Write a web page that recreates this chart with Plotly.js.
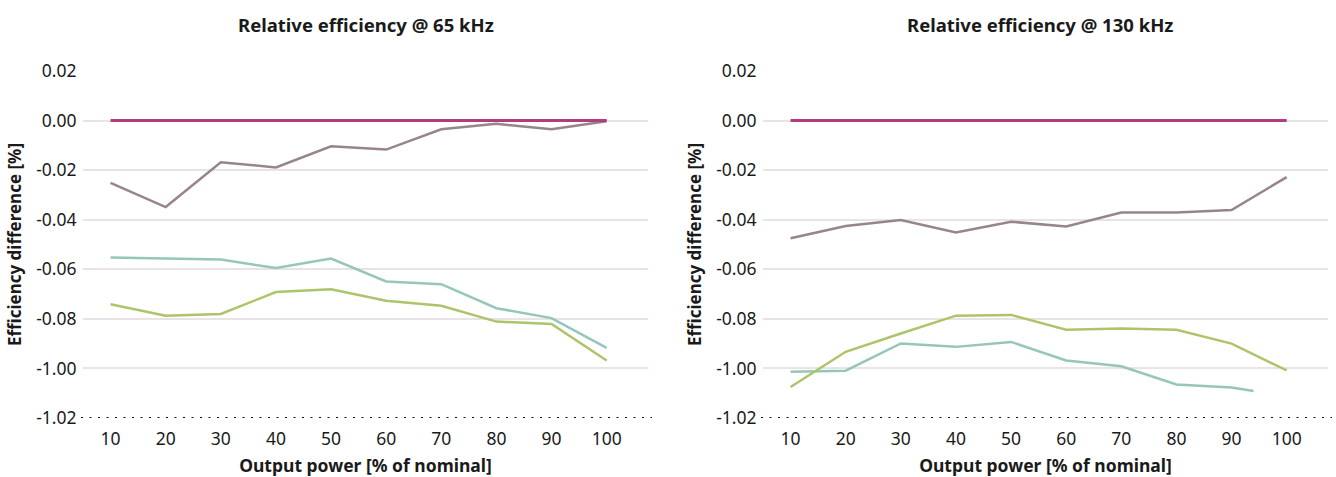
<!DOCTYPE html>
<html>
<head>
<meta charset="utf-8">
<script src="https://cdn.plot.ly/plotly-3.0.1.min.js"></script>
<style>html,body{margin:0;padding:0;background:#fff}#chart{width:1336px;height:477px}</style>
</head>
<body>
<div id="chart"></div>
<script>
// Output power [% of nominal]
const power = [10, 20, 30, 40, 50, 60, 70, 80, 90, 100];
const powerTealRight = [10, 20, 30, 40, 50, 60, 70, 80, 90, 94];

// Relative efficiency @ 65 kHz
const ref65   = [0, 0, 0, 0, 0, 0, 0, 0, 0, 0];
const mauve65 = [-0.0251, -0.0349, -0.0168, -0.0189, -0.0104, -0.0117, -0.0035, -0.0013, -0.0035, -0.0003];
const teal65  = [-0.0552, -0.0556, -0.0561, -0.0595, -0.0557, -0.0649, -0.0660, -0.0757, -0.0797, -0.0917];
const green65 = [-0.0741, -0.0787, -0.0780, -0.0692, -0.0681, -0.0727, -0.0747, -0.0811, -0.0821, -0.0968];

// Relative efficiency @ 130 kHz
const ref130   = [0, 0, 0, 0, 0, 0, 0, 0, 0, 0];
const mauve130 = [-0.0475, -0.0425, -0.0401, -0.0451, -0.0408, -0.0427, -0.0371, -0.0371, -0.0361, -0.0228];
const teal130  = [-0.1013, -0.1009, -0.0899, -0.0913, -0.0893, -0.0968, -0.0991, -0.1065, -0.1077, -0.1091];
const green130 = [-0.1075, -0.0933, -0.0859, -0.0787, -0.0784, -0.0844, -0.0839, -0.0844, -0.0900, -0.1008];

// Axis ticks (labels as printed on the chart)
const yTickVals = [0.02, 0.00, -0.02, -0.04, -0.06, -0.08, -0.10, -0.12];
const yTickText = ["0.02", "0.00", "-0.02", "-0.04", "-0.06", "-0.08", "-1.00", "-1.02"];
const xTickVals = [10, 20, 30, 40, 50, 60, 70, 80, 90, 100];

const titles = ["Relative efficiency @ 65 kHz", "Relative efficiency @ 130 kHz"];
const xTitle = "Output power [% of nominal]";
const yTitle = "Efficiency difference [%]";

const C = {mag: "#b13c7e", mauve: "#978589", teal: "#96c6ba", green: "#adc46a"};
const FONT = "Noto Sans, sans-serif";
const TXT = "#1a1a1a";

function tr(x, y, color, ax, w) {
  return {x: x, y: y, type: "scatter", mode: "lines", xaxis: ax[0], yaxis: ax[1],
          line: {color: color, width: w || 2.5}, hoverinfo: "skip", showlegend: false};
}
const A1 = ["x", "y"], A2 = ["x2", "y2"];
const data = [
  tr(power, mauve65, C.mauve, A1), tr(power, teal65, C.teal, A1), tr(power, green65, C.green, A1), tr(power, ref65, C.mag, A1, 3),
  tr(power, mauve130, C.mauve, A2), tr(powerTealRight, teal130, C.teal, A2), tr(power, green130, C.green, A2), tr(power, ref130, C.mag, A2, 3)
];

const W = 1336;
function xax(dom, anchor) {
  return {domain: dom, anchor: anchor, range: [5, 107.5], tickvals: xTickVals, showgrid: false, zeroline: false,
          showline: false, ticks: "outside", ticklen: 5, tickcolor: "rgba(0,0,0,0)",
          tickfont: {family: FONT, size: 17.5, color: TXT},
          title: {text: "<b>" + xTitle + "</b>", font: {family: FONT, size: 17.5, color: TXT}, standoff: 13}};
}
function yax(anchor) {
  return {anchor: anchor, domain: [0, 1], range: [-0.12, 0.02], tickvals: yTickVals, ticktext: yTickText,
          showgrid: true, gridcolor: "#e9e3e5", gridwidth: 2, zeroline: false, showline: false,
          ticks: "outside", ticklen: 2, tickcolor: "rgba(0,0,0,0)",
          tickfont: {family: FONT, size: 17.5, color: TXT},
          title: {text: "<b>" + yTitle + "</b>", font: {family: FONT, size: 17, color: TXT}, standoff: 10}};
}
const d1 = [83 / W, 648 / W], d2 = [763 / W, 1328 / W];
const layout = {
  width: 1336, height: 477,
  margin: {l: 0, r: 0, t: 71, b: 59, pad: 0},
  paper_bgcolor: "#fff", plot_bgcolor: "#fff",
  font: {family: FONT},
  xaxis: xax(d1, "y"), yaxis: yax("x"),
  xaxis2: xax(d2, "y2"), yaxis2: yax("x2"),
  shapes: [
    {type: "line", xref: "paper", yref: "y", x0: 81 / W, x1: 652 / W, y0: -0.12, y1: -0.12,
     line: {color: "#111", width: 2, dash: "2px,6.5px"}},
    {type: "line", xref: "paper", yref: "y2", x0: 761 / W, x1: 1332 / W, y0: -0.12, y1: -0.12,
     line: {color: "#111", width: 2, dash: "2px,6.5px"}}
  ],
  annotations: [
    {text: "<b>" + titles[0] + "</b>", xref: "paper", yref: "paper", x: 366 / W, y: 1, yshift: 47,
     xanchor: "center", yanchor: "middle", showarrow: false, font: {family: FONT, size: 18.5, color: TXT}},
    {text: "<b>" + titles[1] + "</b>", xref: "paper", yref: "paper", x: 1040 / W, y: 1, yshift: 47,
     xanchor: "center", yanchor: "middle", showarrow: false, font: {family: FONT, size: 18.5, color: TXT}}
  ]
};
Plotly.newPlot("chart", data, layout, {displayModeBar: false, staticPlot: true});
</script>
</body>
</html>
